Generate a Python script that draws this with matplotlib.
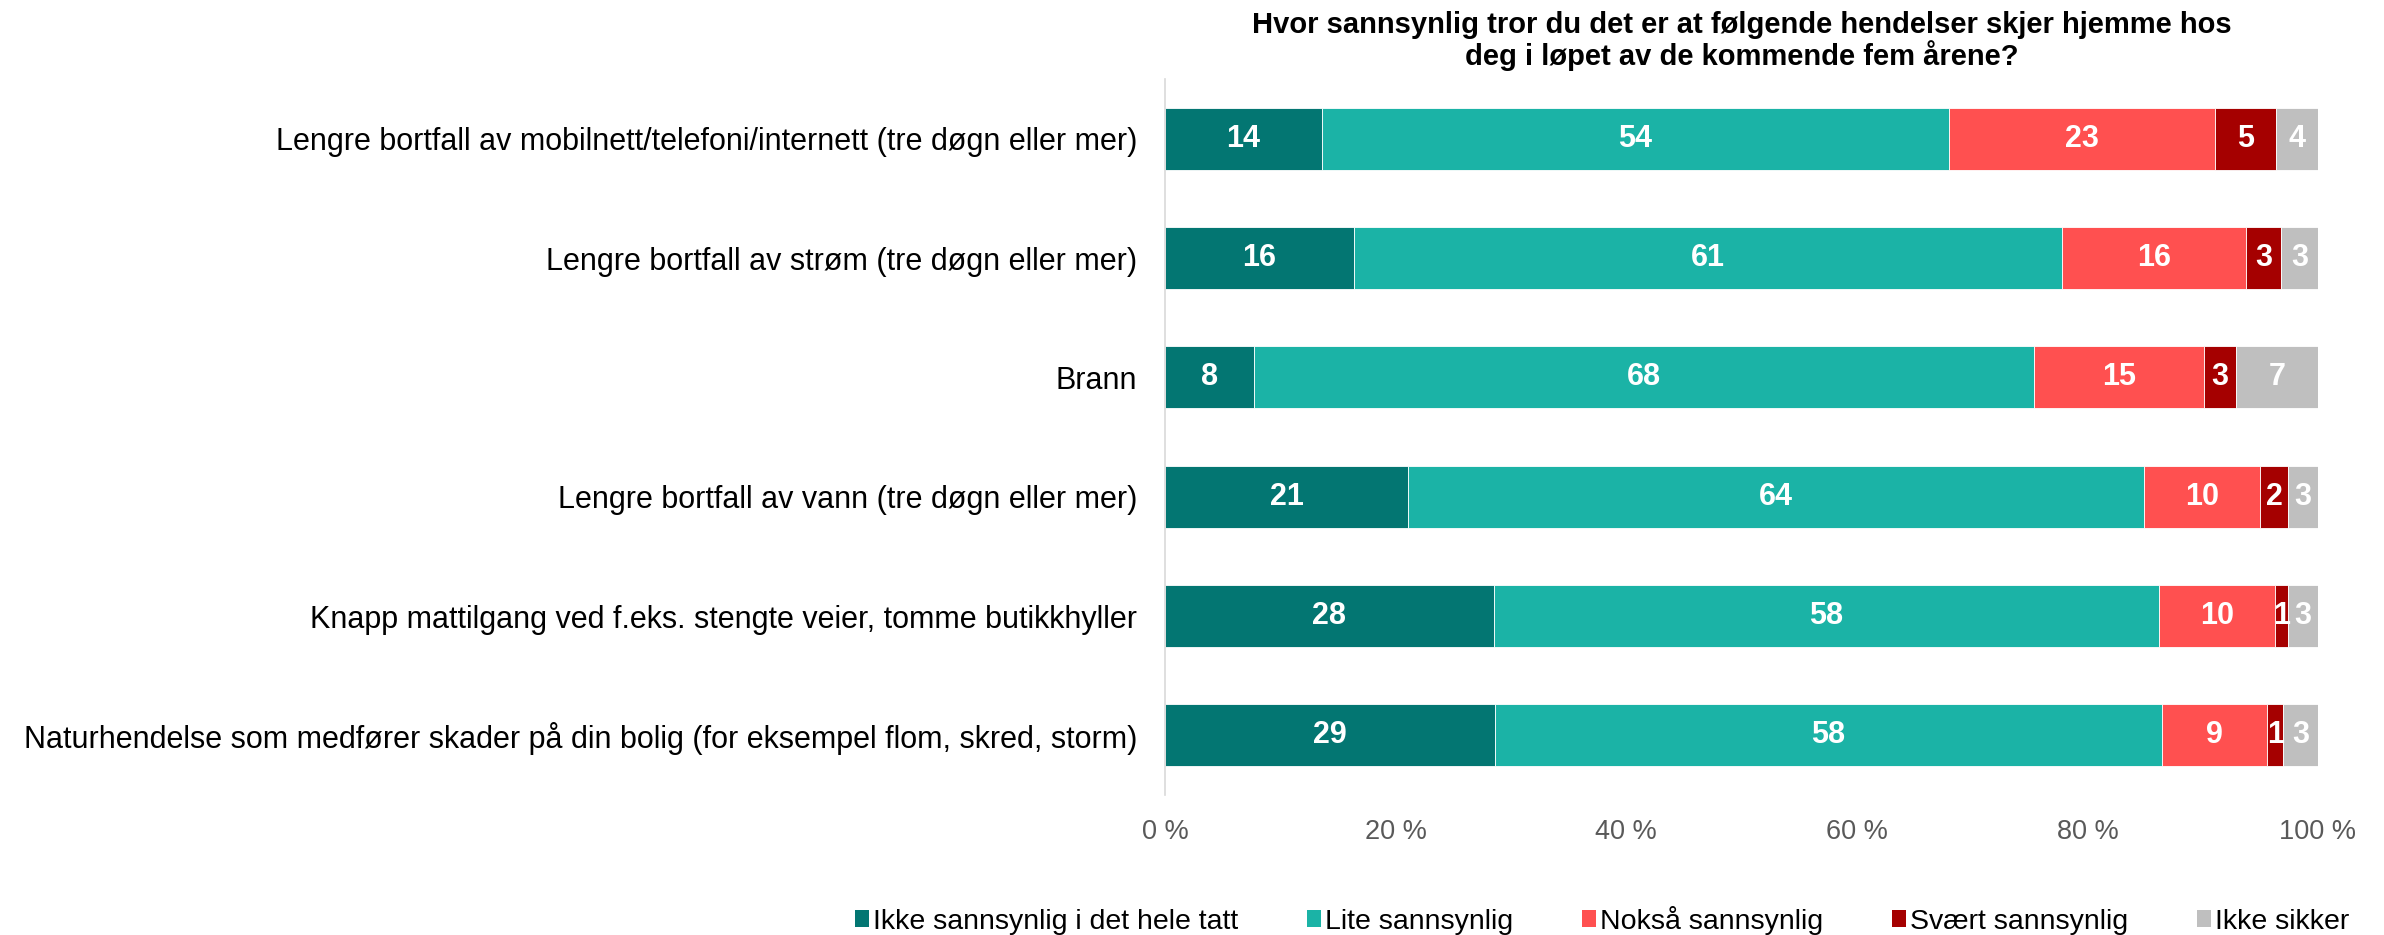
"""Stacked horizontal bar chart: sannsynlighet for hendelser hjemme de neste fem årene."""

import matplotlib

matplotlib.use("Agg")
import matplotlib.pyplot as plt
from matplotlib.patches import Patch
import numpy as np

plt.rcParams["font.family"] = ["Liberation Sans", "DejaVu Sans"]

CATEGORIES = [
    "Lengre bortfall av mobilnett/telefoni/internett (tre døgn eller mer)",
    "Lengre bortfall av strøm (tre døgn eller mer)",
    "Brann",
    "Lengre bortfall av vann (tre døgn eller mer)",
    "Knapp mattilgang ved f.eks. stengte veier, tomme butikkhyller",
    "Naturhendelse som medfører skader på din bolig (for eksempel flom, skred, storm)",
]
SERIES = [
    "Ikke sannsynlig i det hele tatt",
    "Lite sannsynlig",
    "Nokså sannsynlig",
    "Svært sannsynlig",
    "Ikke sikker",
]
# percent per category, one list per series
ikke_sannsynlig = [13.6, 16.4, 7.7, 21.1, 28.5, 28.6]
lite_sannsynlig = [54.4, 61.4, 67.7, 63.8, 57.7, 57.9]
noksaa_sannsynlig = [23.1, 16.0, 14.7, 10.1, 10.1, 9.1]
svaert_sannsynlig = [5.3, 3.0, 2.8, 2.4, 1.1, 1.4]
ikke_sikker = [3.6, 3.2, 7.1, 2.6, 2.6, 3.0]
VALUES = [ikke_sannsynlig, lite_sannsynlig, noksaa_sannsynlig, svaert_sannsynlig, ikke_sikker]
COLORS = ["#037672", "#1BB3A6", "#FF5050", "#A50000", "#BFBFBF"]
XTICKS = [0, 20, 40, 60, 80, 100]

TITLE = "Hvor sannsynlig tror du det er at følgende hendelser skjer hjemme hos\ndeg i løpet av de kommende fem årene?"

fig = plt.figure(figsize=(23.84, 9.35), dpi=100)
ax = fig.add_axes([0.4887, 0.1497, 0.4836, 0.7658])

y = np.arange(len(CATEGORIES))
left = np.zeros(len(CATEGORIES))
for name, vals, color in zip(SERIES, VALUES, COLORS):
    vals = np.array(vals, dtype=float)
    ax.barh(y, vals, left=left, height=0.52, color=color, edgecolor="white", linewidth=0.6, label=name)
    for yi, l, v in zip(y, left, vals):
        ax.text(l + v / 2, yi, f"{v:.0f}", ha="center", va="center", color="white",
                fontsize=22, fontweight="bold")
    left += vals

ax.set_ylim(len(CATEGORIES) - 0.5, -0.5)
ax.set_xlim(0, 100)
ax.set_yticks(y, CATEGORIES, fontsize=22)
ax.set_xticks(XTICKS, [f"{t} %" for t in XTICKS], fontsize=19.5, color="#595959")
ax.tick_params(axis="both", length=0)
ax.tick_params(axis="y", pad=20)
ax.tick_params(axis="x", pad=17)
for side in ("top", "right", "bottom"):
    ax.spines[side].set_visible(False)
ax.spines["left"].set_color("#D9D9D9")
ax.spines["left"].set_linewidth(1.2)

# title centred over the plot area, near the top edge of the figure
ax_box = ax.get_position()
fig.text((ax_box.x0 + ax_box.x1) / 2, 1 - 11 / 935, TITLE, ha="center", va="top",
         fontsize=21, fontweight="bold", linespacing=1.05)

handles = [Patch(facecolor=c, edgecolor="none") for c in COLORS]
fig.legend(handles, SERIES, loc="center", bbox_to_anchor=(0.672, 0.016), ncol=5, frameon=False,
           fontsize=20.5, handlelength=0.5, handleheight=0.5, handletextpad=0.15, columnspacing=2.4)

fig.savefig("out.png", dpi=100)
